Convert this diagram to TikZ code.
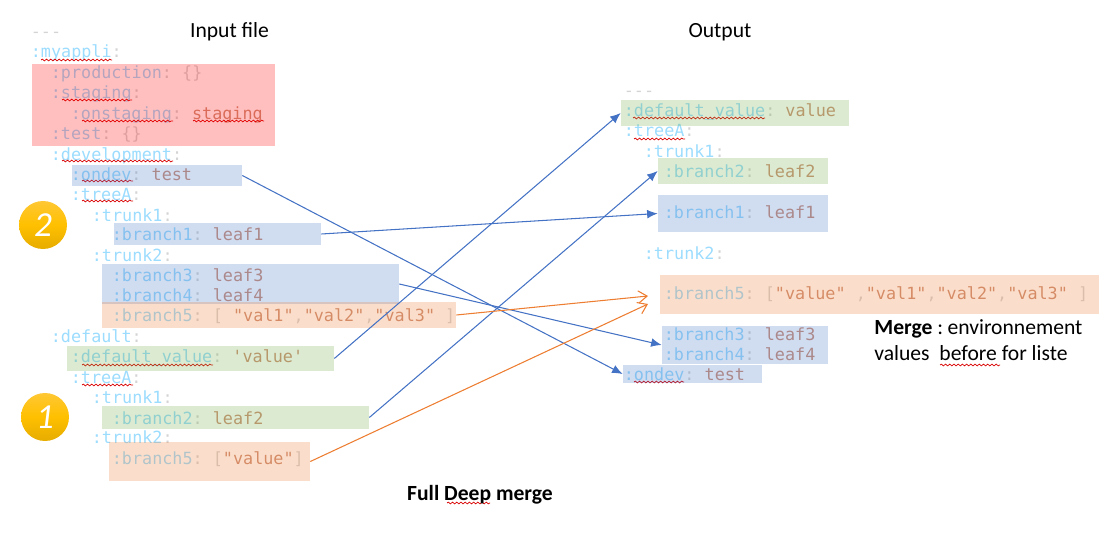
\documentclass[tikz,border=0pt]{standalone}
\usepackage{fontspec}
\setmainfont{Carlito}
\newfontfamily\ymlfont{DejaVu Sans Mono}
\usepackage{tikz}
\usetikzlibrary{arrows.meta,decorations.pathmorphing}
\pgfdeclarelayer{bg}
\pgfsetlayers{bg,main}
\definecolor{ymlkey}{HTML}{9CDCFE}
\definecolor{ymlpun}{HTML}{D4D4D4}
\definecolor{ymlval}{HTML}{CE9178}
\definecolor{blueline}{HTML}{4472C4}
\definecolor{orangeline}{HTML}{ED7D31}
\definecolor{greenbox}{HTML}{70AD47}
\definecolor{goldtop}{HTML}{FFC733}
\definecolor{goldmid}{HTML}{FFC000}
\definecolor{goldlow}{HTML}{E6AC00}
\newcommand{\ymk}[1]{\textcolor{ymlkey}{:#1}\textcolor{ymlpun}{:}\ignorespaces}
\newcommand{\ymv}[1]{\textcolor{ymlval}{#1}}
\newcommand{\ymp}[1]{\textcolor{ymlpun}{#1}}
\newcommand{\ys}{\hspace{.602em}}
\tikzset{
  yml/.style={anchor=base west, inner sep=0pt, font=\ymlfont\fontsize{9.55}{11}\selectfont},
  lbl/.style={inner sep=0pt, font=\fontsize{12.3}{14.8}\selectfont},
  hl/.style={inner sep=0pt, fill opacity=.25},
  bluebox/.style={hl, fill=blueline},
  orangebox/.style={hl, fill=orangeline},
  greenhl/.style={hl, fill=greenbox},
  redbox/.style={hl, fill=red},
  spell/.style={red!85!black, line width=.4pt, decorate, decoration={snake, amplitude=.5pt, segment length=2.4pt}},
  bluearr/.style={blueline, line width=.6pt, -{Latex[length=6pt,width=5pt]}},
  orangearr/.style={orangeline, line width=.6pt, -{Straight Barb[length=5pt,width=7pt]}},
  badge/.style={circle, minimum size=.96cm, inner sep=0pt, text=white, top color=goldtop, bottom color=goldlow, middle color=goldmid,
    font=\itshape\fontsize{20}{22}\selectfont},
}
\begin{document}
\begin{tikzpicture}[x=0.02cm,y=-0.02cm]
	\useasboundingbox (0,0) rectangle (1112,540);
	\begin{pgfonlayer}{bg}
		% input file
		\node (l01) [yml] at (30.5,37.5) {\ymp{---}};
		\node (l02) [yml] at (30.5,57.5) {\ymk{myappli}};
		\node (l03) [yml] at (50.5,79) {\ymk{production}\ys\ymp{\{\}}};
		\node (l04) [yml] at (50.5,98.5) {\ymk{staging}};
		\node (l05) [yml] at (70.5,119.5) {\ymk{onstaging}\ys\ymv{staging}};
		\node (l06) [yml] at (50.5,140) {\ymk{test}\ys\ymp{\{\}}};
		\node (l07) [yml] at (50.5,160.5) {\ymk{development}};
		\node (l08) [yml] at (70.5,181) {\ymk{ondev}\ys\ymv{test}};
		\node (l09) [yml] at (70.5,200.5) {\ymk{treeA}};
		\node (l10) [yml] at (91.5,221.5) {\ymk{trunk1}};
		\node (l11) [yml] at (111.5,241) {\ymk{branch1}\ys\ymv{leaf1}};
		\node (l12) [yml] at (91.5,261.5) {\ymk{trunk2}};
		\node (l13) [yml] at (111.5,282) {\ymk{branch3}\ys\ymv{leaf3}};
		\node (l14) [yml] at (111.5,302) {\ymk{branch4}\ys\ymv{leaf4}};
		\node (l15) [yml] at (111.5,322) {\ymk{branch5}\ys\ymp{[}\ys\ymv{"val1"}\ymp{,}\ymv{"val2"}\ymp{,}\ymv{"val3"}\ys\ymp{]}};
		\node (l16) [yml] at (50.5,342.5) {\ymk{default}};
		\node (l17) [yml] at (70.5,363) {\ymk{default\_value}\ys\ymv{'value'}};
		\node (l18) [yml] at (70.5,383) {\ymk{treeA}};
		\node (l19) [yml] at (91.5,403) {\ymk{trunk1}};
		\node (l20) [yml] at (111.5,424) {\ymk{branch2}\ys\ymv{leaf2}};
		\node (l21) [yml] at (91.5,443) {\ymk{trunk2}};
		\node (l22) [yml] at (111.5,464) {\ymk{branch5}\ys\ymp{[}\ymv{"value"}\ymp{]}};
		% output
		\node (r01) [yml] at (623.5,96.5) {\ymp{---}};
		\node (r02) [yml] at (623.5,117) {\ymk{default\_value}\ys\ymv{value}};
		\node (r03) [yml] at (623.5,137) {\ymk{treeA}};
		\node (r04) [yml] at (643.5,157.5) {\ymk{trunk1}};
		\node (r05) [yml] at (663.5,178) {\ymk{branch2}\ys\ymv{leaf2}};
		\node (r06) [yml] at (663.5,219) {\ymk{branch1}\ys\ymv{leaf1}};
		\node (r07) [yml] at (643.5,260) {\ymk{trunk2}};
		\node (r08) [yml] at (663.5,300) {\ymk{branch5}\ys\ymp{[}\ymv{"value"}\ys\ymp{,}\ymv{"val1"}\ymp{,}\ymv{"val2"}\ymp{,}\ymv{"val3"}\ys\ymp{]}};
		\node (r09) [yml] at (663.5,341) {\ymk{branch3}\ys\ymv{leaf3}};
		\node (r10) [yml] at (663.5,360.5) {\ymk{branch4}\ys\ymv{leaf4}};
		\node (r11) [yml] at (623.5,380) {\ymk{ondev}\ys\ymv{test}};
		% spell check marks
		\draw [spell] (41,60) -- (112,60);
		\draw [spell] (62,100) -- (132,100);
		\draw [spell] (82,121) -- (173,121);
		\draw [spell] (193,121) -- (264,121);
		\draw [spell] (62,161) -- (173,161);
		\draw [spell] (82,181) -- (133,181);
		\draw [spell] (82,201) -- (133,201);
		\draw [spell] (82,365) -- (213,365);
		\draw [spell] (82,385) -- (133,385);
		\draw [spell] (633,118) -- (765,118);
		\draw [spell] (634,139) -- (685,139);
		\draw [spell] (634,382) -- (684,382);
		\draw [spell] (940,365) -- (1000,365);
		\draw [spell] (447,503) -- (490,503);
	\end{pgfonlayer}
	% highlights
	\node (stagingL) [redbox, minimum width=4.86cm, minimum height=1.64cm] at (153.5,105) {};
	\node (ondevL) [bluebox, minimum width=3.40cm, minimum height=.42cm] at (157,175.5) {};
	\node (branch1L) [bluebox, minimum width=4.14cm, minimum height=.44cm] at (217.5,234) {};
	\node (branch34L) [bluebox, minimum width=5.94cm, minimum height=.80cm] at (250.5,284) {};
	\node (branch5L) [orangebox, minimum width=7.08cm, minimum height=.52cm] at (279,315) {};
	\node (defaultL) [greenhl, minimum width=5.34cm, minimum height=.50cm] at (200.5,358.5) {};
	\node (branch2L) [greenhl, minimum width=5.34cm, minimum height=.46cm] at (235.5,417.5) {};
	\node (valueL) [orangebox, minimum width=4.02cm, minimum height=.78cm] at (209.5,461.5) {};
	\node (defaultR) [greenhl, minimum width=4.56cm, minimum height=.52cm] at (735,113) {};
	\node (branch2R) [greenhl, minimum width=3.40cm, minimum height=.52cm] at (743,171) {};
	\node (branch1R) [bluebox, minimum width=3.40cm, minimum height=.74cm] at (743,213.5) {};
	\node (branch5R) [orangebox, minimum width=8.78cm, minimum height=.78cm] at (879.5,294.5) {};
	\node (branch34R) [bluebox, minimum width=3.32cm, minimum height=.76cm] at (745,345) {};
	\node (ondevR) [bluebox, minimum width=2.78cm, minimum height=.36cm] at (692.5,374) {};
	% texts
	\node (input) [lbl] at (229.5,32) {Input file};
	\node (output) [lbl] at (720,32) {Output};
	\node (merge) [lbl, anchor=north west, align=left] at (874,319) {\textbf{Merge} :\hspace{-1.2pt} environnement\\values\ \ before for liste};
	\node (full) [lbl, font=\bfseries\fontsize{12.3}{15}\selectfont] at (480,494.5) {Full Deep merge};
	\node (two) [badge] at (43,225) {2};
	\node (one) [badge] at (45,417) {1};
	% connectors
	\coordinate (tipA) at (648,296);
	\coordinate (tipB) at (648,304);
	\draw (ondevL.east) edge [bluearr] (ondevR.west);
	\draw (branch1L.east) edge [bluearr] (branch1R.west);
	\draw (branch34L.east) edge [bluearr] (branch34R.west);
	\draw (defaultL.east) edge [bluearr] (defaultR.west);
	\draw (branch2L.east) edge [bluearr] (branch2R.west);
	\draw (branch5L.east) edge [orangearr] (tipA);
	\draw (valueL.east) edge [orangearr] (tipB);
\end{tikzpicture}
\end{document}
